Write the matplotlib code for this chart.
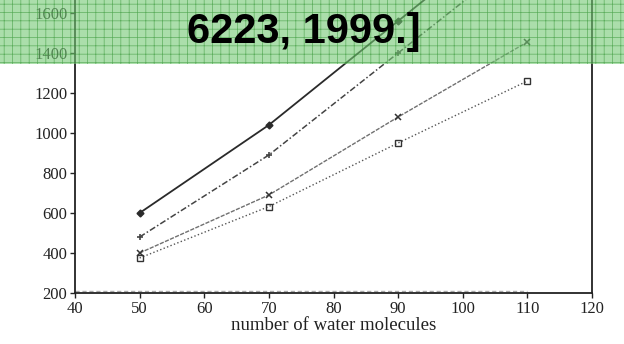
import matplotlib
matplotlib.use("Agg")
import matplotlib.pyplot as plt
from matplotlib.patches import Rectangle


# values
water = [50, 70, 90, 110]
series_a = [600, 1040, 1560, 2080]   # solid, diamonds (110 point is off the top)
series_b = [480, 890, 1400, 1910]    # dash-dot, plus (110 point is off the top)
series_c = [400, 690, 1080, 1455]    # thin, crosses
series_d = [375, 632, 950, 1260]     # dotted, open squares
base_x = [40, 110]
base_y = [210, 210]                  # faint trace along the bottom axis

xticks = [40, 50, 60, 70, 80, 90, 100, 110, 120]
yticks = [200, 400, 600, 800, 1000, 1200, 1400, 1600]
banner_text = "6223, 1999.]"

plt.rcParams["hatch.linewidth"] = 0.5

fig = plt.figure(figsize=(6.24, 3.44), dpi=100)
ax = fig.add_axes([75 / 624, 51 / 344, 517 / 624, 293 / 344])

ax.plot(base_x, base_y, color="#aaaaaa", lw=1.0, ls=(0, (3, 2)), zorder=1)
ax.plot(water, series_a, color="#2a2a2a", lw=1.3, marker="D", ms=3.5,
        mfc="#2a2a2a")
ax.plot(water, series_b, color="#444444", lw=1.1, ls=(0, (4, 1.5, 1, 1.5)),
        marker="+", ms=4, mew=1.2)
ax.plot(water, series_c, color="#707070", lw=1.0, ls=(0, (3, 1)),
        marker="x", ms=5, mew=1.1, mec="#333333")
ax.plot(water, series_d, color="#555555", lw=1.0, ls=":",
        marker="s", ms=5, mfc="none", mec="#333333", mew=1.0)

ax.set_xlim(40, 120)
ax.set_ylim(200, 1665)
ax.set_xticks(xticks)
ax.set_yticks(yticks)
ax.spines["top"].set_visible(False)
for side in ["left", "right", "bottom"]:
    ax.spines[side].set_linewidth(1.3)
    ax.spines[side].set_color("#222222")
ax.tick_params(direction="out", length=3.5, width=1.0, color="#222222",
               labelsize=12, labelcolor="#222222", pad=2)
for lab in ax.get_xticklabels() + ax.get_yticklabels():
    lab.set_family("Liberation Serif")
ax.set_xlabel("number of water molecules", family="Liberation Serif",
              fontsize=13.5, color="#222222", labelpad=0)

# green banner across the top
band = Rectangle((0, 1 - 64 / 344), 1, 64 / 344, transform=fig.transFigure,
                 facecolor="#74c874", alpha=0.6, edgecolor="none", zorder=5)
fig.patches.append(band)
grid = Rectangle((0, 1 - 64 / 344), 1, 64 / 344, transform=fig.transFigure,
                 facecolor="none", edgecolor="#2a8f2a", hatch="++", lw=0,
                 alpha=0.6, zorder=6)
fig.patches.append(grid)

fig.text(187 / 624, 1 - 43 / 344, banner_text, family="Liberation Sans",
         fontweight="bold", fontsize=30, color="black", va="baseline",
         ha="left", zorder=10)

fig.savefig("out.png", dpi=100)
